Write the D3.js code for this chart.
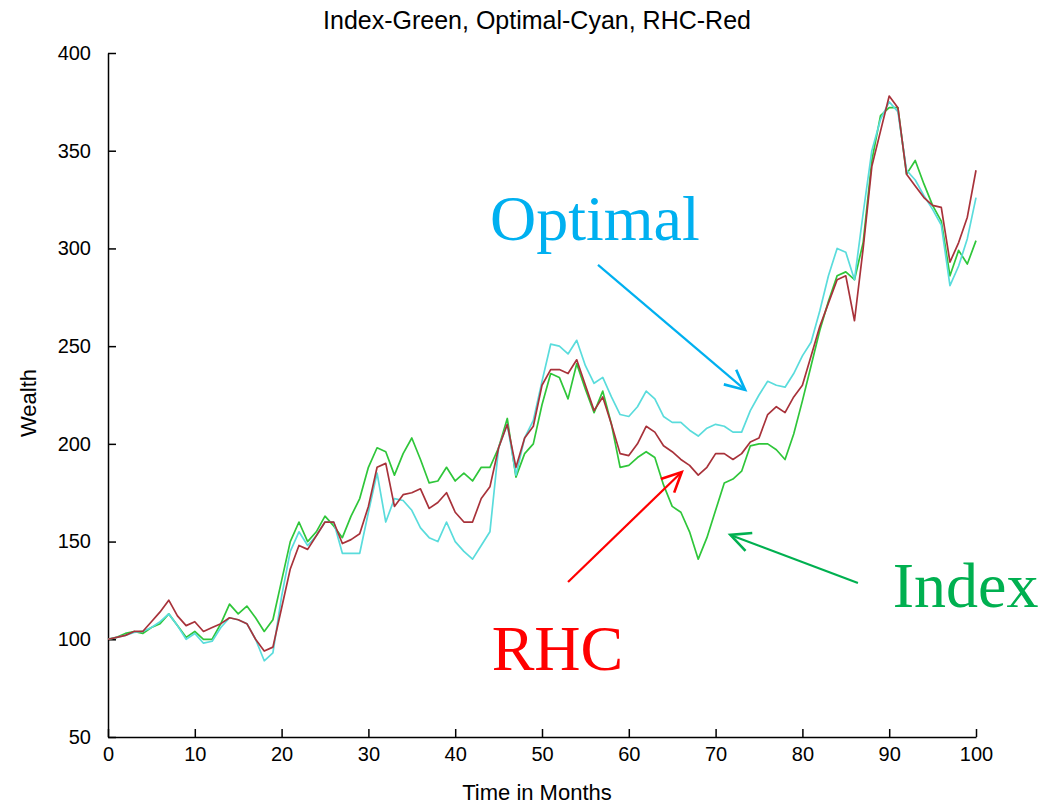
<!DOCTYPE html>
<html>
<head>
<meta charset="utf-8">
<script src="https://cdn.jsdelivr.net/npm/d3@7"></script>
<style>
  body { margin: 0; background: #fff; }
  text { font-family: "Liberation Sans", Arial, sans-serif; }
</style>
</head>
<body>
<div id="chart"></div>
<script>
// months 0..100
const months = d3.range(0, 101);

const indexVals = [100,101,103,104,103,106,108,113,107,101,104,100,100,108,118,113,117,111,104,110,
  130,150,160,150,155,163,158,152,163,172,188,198,196,184,195,203,192,180,181,188,
  181,185,181,188,188,198,213,183,195,200,220,236,234,223,241,228,216,227,210,188,
  189,193,196,193,179,168,165,155,141,152,166,180,182,186,199,200,200,197,192,205,
  222,240,258,273,286,288,284,303,345,368,372,372,338,345,333,322,314,286,299,292,304];

const optimalVals = [100,101,102,103.5,104,106,109,113,107,100,103,98,99,106,111,110,108,100,89,93,
  122,145,155,148,153,160,160,144,144,144,165,185,160,172,171,166,157,152,150,160,
  150,145,141,148,155,198,210,184,203,212,232,251,250,246,253,240,231,234,224,215,
  214,219,227,223,214,211,211,207,204,208,210,209,206,206,217,225,232,230,229,236,
  245,252,268,286,300,298,284,318,350,366,375,370,340,335,327,320,312,281,291,305,326];

const rhcVals = [100,101,102,104,104,109,114,120,112,107,109,104,106,108,111,110,108,100,94,96,
  116,136,148,146,153,160,160,149,151,154,168,188,190,168,174,175,177,167,170,175,
  165,160,160,172,178,198,210,188,203,209,230,238,238,236,243,230,217,224,210,195,
  194,200,209,206,199,196,192,189,184,188,195,195,192,195,201,203,215,219,216,224,
  230,245,260,272,284,286,263,300,342,360,378,372,338,332,326,322,321,293,303,316,340];

const yTicks = [50,100,150,200,250,300,350,400];
const xTicks = [0,10,20,30,40,50,60,70,80,90,100];

// annotation labels and arrows, in data units
const labels = [
  {text: "Optimal", x: 44.0, y: 304.4, color: "#00b0f0"},
  {text: "RHC", x: 44.2, y: 84.3, color: "#ff0000"},
  {text: "Index", x: 90.4, y: 116.5, color: "#00b050"}
];
const arrows = [
  {x1: 56.45, y1: 291.6, x2: 73.4, y2: 227.6, color: "#00b0f0"},
  {x1: 53.0, y1: 129.3, x2: 66.1, y2: 185.6, color: "#ff0000"},
  {x1: 86.4, y1: 128.8, x2: 71.7, y2: 153.4, color: "#00b050"}
];

const width = 1041, height = 805;
const margin = {left: 108, right: 65, top: 53, bottom: 68};

const svg = d3.select("#chart").append("svg")
  .attr("width", width)
  .attr("height", height);

const x = d3.scaleLinear().domain([0, 100]).range([margin.left, width - margin.right]);
const y = d3.scaleLinear().domain([50, 400]).range([height - margin.bottom, margin.top]);

// axes, ticks pointing inside
svg.append("g")
  .attr("transform", "translate(0," + y(50) + ")")
  .call(d3.axisBottom(x).tickValues(xTicks).tickSizeInner(-8).tickSizeOuter(0).tickPadding(10))
  .call(g => g.selectAll("text").attr("font-size", 20).attr("fill", "#000").attr("font-family", "Liberation Sans, Arial"))
  .call(g => g.selectAll("line, path").attr("stroke", "#000").attr("stroke-width", 1.5));

svg.append("g")
  .attr("transform", "translate(" + x(0) + ",0)")
  .call(d3.axisLeft(y).tickValues(yTicks).tickSizeInner(-8).tickSizeOuter(0).tickPadding(17))
  .call(g => g.selectAll("text").attr("font-size", 20).attr("fill", "#000").attr("font-family", "Liberation Sans, Arial"))
  .call(g => g.selectAll("line, path").attr("stroke", "#000").attr("stroke-width", 1.5));

const line = d3.line()
  .x((d, i) => x(months[i]))
  .y(d => y(d));

const series = [
  {vals: indexVals, color: "#2fc63a"},
  {vals: optimalVals, color: "#5adcdc"},
  {vals: rhcVals, color: "#a8323a"}
];

series.forEach(s => {
  svg.append("path")
    .datum(s.vals)
    .attr("fill", "none")
    .attr("stroke", s.color)
    .attr("stroke-width", 1.7)
    .attr("stroke-linejoin", "round")
    .attr("d", line);
});

// title and axis labels
svg.append("text")
  .attr("x", 537).attr("y", 29)
  .attr("text-anchor", "middle")
  .attr("font-size", 25)
  .text("Index-Green, Optimal-Cyan, RHC-Red");

svg.append("text")
  .attr("x", 537).attr("y", 800)
  .attr("text-anchor", "middle")
  .attr("font-size", 22)
  .text("Time in Months");

svg.append("text")
  .attr("transform", "translate(36,403) rotate(-90)")
  .attr("text-anchor", "middle")
  .attr("font-size", 22)
  .text("Wealth");

// annotations
svg.selectAll(".lab")
  .data(labels)
  .enter()
  .append("text")
  .attr("class", "lab")
  .attr("x", d => x(d.x))
  .attr("y", d => y(d.y))
  .attr("fill", d => d.color)
  .style("font-family", "'Liberation Serif', 'Times New Roman', serif")
  .attr("font-size", 64)
  .text(d => d.text);

arrows.forEach(a => {
  const x1 = x(a.x1), y1 = y(a.y1), x2 = x(a.x2), y2 = y(a.y2);
  const ang = Math.atan2(y2 - y1, x2 - x1);
  const L = 22, spread = 0.45;
  svg.append("line")
    .attr("x1", x1).attr("y1", y1).attr("x2", x2).attr("y2", y2)
    .attr("stroke", a.color).attr("stroke-width", 2.2);
  svg.append("path")
    .attr("d", "M" + (x2 - L * Math.cos(ang - spread)) + "," + (y2 - L * Math.sin(ang - spread)) +
      "L" + x2 + "," + y2 +
      "L" + (x2 - L * Math.cos(ang + spread)) + "," + (y2 - L * Math.sin(ang + spread)))
    .attr("fill", "none")
    .attr("stroke", a.color).attr("stroke-width", 2.6);
});
</script>
</body>
</html>
